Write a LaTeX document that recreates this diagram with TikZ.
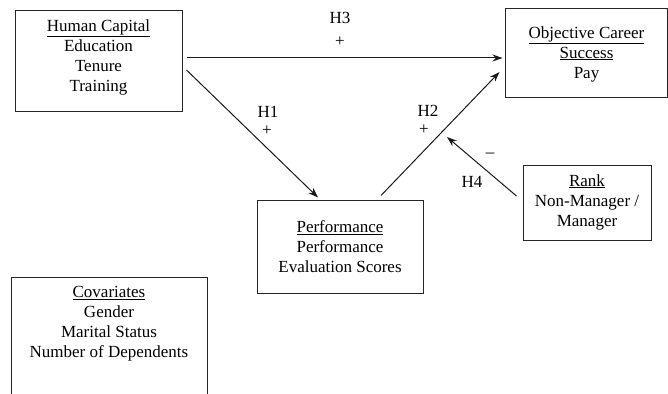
\documentclass[tikz,border=0pt]{standalone}
\usepackage{fontspec}
\setmainfont{Liberation Serif}
\usetikzlibrary{arrows.meta}
\begin{document}
\begin{tikzpicture}[x=1pt,y=-1pt,
  box/.style={draw=black!85,line width=1pt,rectangle,inner sep=0pt},
  txt/.style={align=center,font=\fontsize{17}{20}\selectfont,inner sep=0pt},
  lbl/.style={font=\fontsize{17}{20}\selectfont,inner sep=0pt},
  arr/.style={line width=1pt,draw=black!90,-{Stealth[length=10pt,width=7pt]}},
]
\useasboundingbox (0,0) rectangle (668,393);
% boxes
\node[box,minimum width=167pt,minimum height=100pt] (hc) at (98.5,61) {};
\node[box,minimum width=162pt,minimum height=89pt] (ocs) at (586,53.5) {};
\node[box,minimum width=166pt,minimum height=93pt] (perf) at (340,246.5) {};
\node[box,minimum width=128pt,minimum height=75pt] (rank) at (587,202.5) {};
\draw[draw=black!85,line width=1pt] (11,394) |- (207,277) -- (207,394);
% texts
\node[txt] (hct) at (98.5,57) {\underline{Human Capital}\\Education\\Tenure\\Training};
\node[txt] (ocst) at (586.5,54) {\underline{Objective Career}\\\underline{Success}\\Pay};
\node[txt] (perft) at (340,247) {\underline{Performance}\\Performance\\Evaluation Scores};
\node[txt] (rankt) at (587,202) {\underline{Rank}\\Non-Manager /\\Manager};
\node[txt] (covt) at (109,324) {\underline{Covariates}\\Gender\\Marital Status\\Number of Dependents};
% arrows
\draw[arr] ([xshift=4pt,yshift=3pt]hc.east) -- ([xshift=-2pt,yshift=-4.5pt]ocs.west);
\draw[arr] ([xshift=4pt,yshift=-9pt]hc.east) -- ([xshift=-22pt,yshift=2pt]perf.north);
\draw[arr] ([xshift=41pt,yshift=4pt]perf.north) -- ([xshift=-5pt,yshift=-18.5pt]ocs.west);
\coordinate (h4end) at (447,137);
\draw[arr] ([xshift=-6pt,yshift=6.5pt]rank.west) -- (h4end);
% labels
\node[lbl] (h3) at (340,18) {H3};
\node[lbl] (h3p) at (340,42) {+};
\node[lbl] (h1) at (268,112) {H1};
\node[lbl] (h1p) at (267,131) {+};
\node[lbl] (h2) at (428,111) {H2};
\node[lbl] (h2p) at (424,130) {+};
\node[lbl] (h4m) at (490,155) {–};
\node[lbl] (h4) at (472,182) {H4};
\end{tikzpicture}
\end{document}
